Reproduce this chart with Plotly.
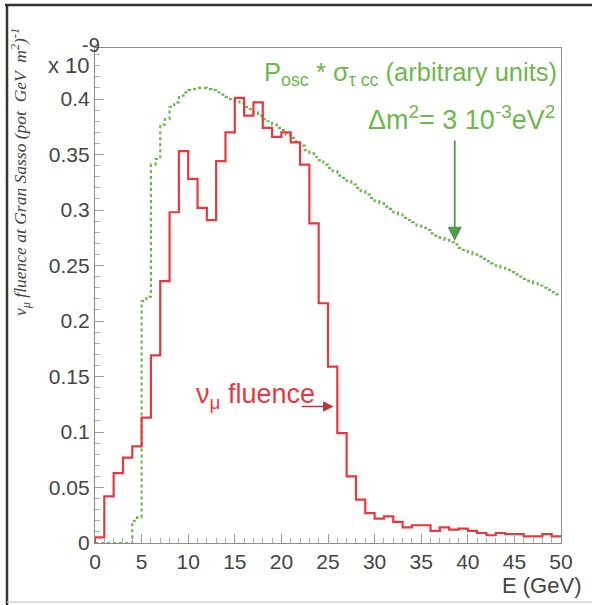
import plotly.graph_objects as go

# ---------------- data ----------------
red_edges = list(range(0, 51))  # 1 GeV bins
red_fluence = [0.005, 0.042, 0.063, 0.077, 0.087, 0.113, 0.169, 0.236, 0.298, 0.353,
               0.328, 0.302, 0.291, 0.344, 0.370, 0.401, 0.385, 0.397, 0.374, 0.366,
               0.370, 0.361, 0.341, 0.288, 0.216, 0.159, 0.099, 0.060, 0.039, 0.027,
               0.022, 0.024, 0.019, 0.014, 0.016, 0.016, 0.011, 0.014, 0.012, 0.013,
               0.011, 0.009, 0.007, 0.009, 0.008, 0.008, 0.006, 0.006, 0.008, 0.006]

green_edges = [i * 0.5 for i in range(101)]  # 0.5 GeV bins
green_posc = [0, 0, 0, 0, 0, 0, 0, 0,
              0.020, 0.023, 0.218, 0.222, 0.341, 0.346, 0.377, 0.382, 0.393, 0.397,
              0.403, 0.406, 0.408, 0.409, 0.410, 0.410, 0.409, 0.408, 0.406, 0.404,
              0.402, 0.400, 0.398, 0.396, 0.393, 0.391, 0.388, 0.385, 0.382, 0.380,
              0.377, 0.374, 0.372, 0.368, 0.365, 0.362, 0.358, 0.354, 0.351, 0.348,
              0.345, 0.341, 0.338, 0.335, 0.331, 0.329, 0.326, 0.323, 0.320, 0.317,
              0.314, 0.311, 0.308, 0.306, 0.303, 0.301, 0.298, 0.296, 0.293, 0.291,
              0.289, 0.286, 0.284, 0.282, 0.279, 0.277, 0.275, 0.273, 0.271, 0.269,
              0.266, 0.264, 0.262, 0.260, 0.258, 0.256, 0.254, 0.252, 0.250, 0.248,
              0.246, 0.244, 0.242, 0.240, 0.238, 0.236, 0.234, 0.232, 0.230, 0.228,
              0.226, 0.224]

x_ticks = [0, 5, 10, 15, 20, 25, 30, 35, 40, 45, 50]
y_ticks = [0, 0.05, 0.1, 0.15, 0.2, 0.25, 0.3, 0.35, 0.4]
y_tick_labels = ["0", "0.05", "0.1", "0.15", "0.2", "0.25", "0.3", "0.35", "0.4"]

# ---------------- layout geometry ----------------
W, H = 592, 605
L, R, T, B = 95, 561, 48, 543


def px(xp):
    return (xp - L) / (R - L)


def py(yp):
    return (B - yp) / (B - T)


RED = "#e5393f"
GREEN = "#6cb84a"
TXT = "#444444"
SANS = "Liberation Sans, Arial"

fig = go.Figure()

# green dotted histogram
gx = [0] + green_edges
gy = [0] + green_posc + [green_posc[-1]]
fig.add_trace(go.Scatter(x=gx, y=gy, mode="lines", line_shape="hv",
                         line=dict(color=GREEN, width=2.2, dash="dot"),
                         showlegend=False, hoverinfo="skip"))

# red solid histogram
rx = [0] + red_edges
ry = [0] + red_fluence + [red_fluence[-1]]
fig.add_trace(go.Scatter(x=rx, y=ry, mode="lines", line_shape="hv",
                         line=dict(color=RED, width=2.2),
                         showlegend=False, hoverinfo="skip"))

axis_common = dict(showgrid=False, zeroline=False, showline=True, linecolor="#8a8a8a",
                   linewidth=1.2, mirror=True, ticks="inside", tickcolor="#9a9a9a",
                   tickfont=dict(family=SANS, size=21, color=TXT))

fig.update_xaxes(range=[0, 50], tickvals=x_ticks, ticklen=9,
                 minor=dict(dtick=1, ticks="inside", ticklen=5, tickcolor="#b0b0b0"),
                 **axis_common)
fig.update_yaxes(range=[0, 0.446], tickvals=y_ticks, ticktext=y_tick_labels, ticklen=9,
                 minor=dict(dtick=0.01, ticks="inside", ticklen=5, tickcolor="#b0b0b0"),
                 **axis_common)

ann = []
# x 10^-9
ann.append(dict(x=px(46), y=py(65), xref="paper", yref="paper", xanchor="left", yanchor="middle",
                text="x 10", showarrow=False,
                font=dict(family=SANS, size=22, color=TXT)))
ann.append(dict(x=px(80), y=py(45), xref="paper", yref="paper", xanchor="left", yanchor="middle",
                text="-9", showarrow=False,
                font=dict(family=SANS, size=20, color=TXT)))
# E (GeV)
ann.append(dict(x=px(583), y=py(585), xref="paper", yref="paper", xanchor="right", yanchor="middle",
                text="E (GeV)", showarrow=False,
                font=dict(family=SANS, size=22, color=TXT)))
# y title
ann.append(dict(x=px(21), y=py(172), xref="paper", yref="paper", xanchor="center", yanchor="middle",
                textangle=-90, showarrow=False,
                text="<i>ν<sub>μ</sub> fluence at Gran Sasso (pot  GeV  m<sup>2</sup>)<sup>-1</sup></i>",
                font=dict(family="Liberation Serif, Times New Roman", size=17.5, color=TXT)))
# green labels
ann.append(dict(x=px(559), y=py(74), xref="paper", yref="paper", xanchor="right", yanchor="middle",
                text="P<sub>osc</sub> * σ<sub>τ cc</sub> (arbitrary units)", showarrow=False,
                font=dict(family=SANS, size=25.5, color=GREEN)))
ann.append(dict(x=px(557), y=py(118), xref="paper", yref="paper", xanchor="right", yanchor="middle",
                text="Δm<sup>2</sup>= 3 10<sup>-3</sup>eV<sup>2</sup>", showarrow=False,
                font=dict(family=SANS, size=27, color=GREEN)))
# red label
ann.append(dict(x=px(194), y=py(396), xref="paper", yref="paper", xanchor="left", yanchor="middle",
                text="ν<sub>μ</sub> fluence", showarrow=False,
                font=dict(family=SANS, size=27, color=RED)))
# green arrow
ann.append(dict(x=38.6, y=0.272, ax=38.6, ay=0.364, xref="x", yref="y", axref="x", ayref="y",
                text="", showarrow=True, arrowhead=2, arrowsize=1.6, arrowwidth=1.8,
                arrowcolor="#4f9a4f"))
# red arrow
ann.append(dict(x=25.6, y=0.123, ax=22.0, ay=0.123, xref="x", yref="y", axref="x", ayref="y",
                text="", showarrow=True, arrowhead=2, arrowsize=1.4, arrowwidth=1.5,
                arrowcolor="#c0353a"))

shapes = [
    dict(type="line", xref="paper", yref="paper", x0=px(5), x1=px(592), y0=py(5), y1=py(5),
         line=dict(color="#333333", width=2.5)),
    dict(type="line", xref="paper", yref="paper", x0=px(7), x1=px(7), y0=py(5), y1=py(605),
         line=dict(color="#333333", width=2.5)),
    dict(type="line", xref="paper", yref="paper", x0=px(7), x1=px(592), y0=py(602), y1=py(602),
         line=dict(color="#d0d0d0", width=1.5)),
]

fig.update_layout(width=W, height=H, margin=dict(l=L, r=W - R, t=T, b=H - B),
                  paper_bgcolor="white", plot_bgcolor="white",
                  annotations=ann, shapes=shapes, showlegend=False)

fig.write_html("out.html", config={"displayModeBar": False},
               post_script="document.body.style.margin='0px';")
